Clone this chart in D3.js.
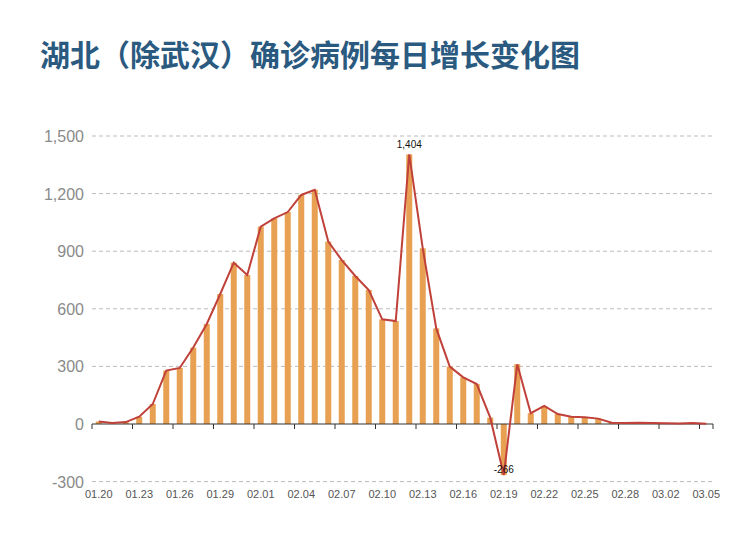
<!DOCTYPE html>
<html><head><meta charset="utf-8">
<script src="https://cdn.jsdelivr.net/npm/d3@7"></script>
<style>body{margin:0;background:#fff;font-family:"Liberation Sans",Arial,sans-serif}</style>
</head><body>
<svg id="c" width="750" height="542"></svg>
<script>
const dates = ['01.20','01.21','01.22','01.23','01.24','01.25','01.26','01.27','01.28','01.29','01.30','01.31',
 '02.01','02.02','02.03','02.04','02.05','02.06','02.07','02.08','02.09','02.10','02.11','02.12','02.13','02.14',
 '02.15','02.16','02.17','02.18','02.19','02.20','02.21','02.22','02.23','02.24','02.25','02.26','02.27','02.28','02.29',
 '03.01','03.02','03.03','03.04','03.05'];
const values = [13,5,10,38,104,278,292,398,521,677,840,776,
 1028,1071,1104,1193,1220,950,854,771,698,545,536,1404,915,498,
 299,243,208,33,-266,311,56,94,52,38,35,28,7,5,7,
 5,4,3,5,1];
const yTicks = [-300,0,300,600,900,1200,1500];
const labelled = ['02.12','02.19'];

var svg = d3.select('#c');
svg.append('text').attr('x',40).attr('y',66)
	.attr('fill','#2b5a80').attr('font-size',30).attr('font-weight','bold')
	.attr('font-family','"Noto Sans CJK SC",sans-serif')
	.text('湖北（除武汉）确诊病例每日增长变化图');

var x = d3.scaleBand().domain(dates).range([92,713]);
var y = d3.scaleLinear().domain([-300,1500]).range([481.6,136]);
var fmt = function(d){ return d3.format(',')(d).replace('\u2212','-'); };

// grid
svg.selectAll('.grid').data(yTicks.filter(function(d){return d!==0;})).enter()
	.append('line')
	.attr('x1',92).attr('x2',713)
	.attr('y1',function(d){return y(d);}).attr('y2',function(d){return y(d);})
	.attr('stroke','#bbb').attr('stroke-dasharray','4,3');
svg.selectAll('.ylab').data(yTicks).enter().append('text')
	.attr('x',84).attr('y',function(d){return y(d)+6;})
	.attr('text-anchor','end').attr('fill','#8a8a8a').attr('font-size',16)
	.text(fmt);

// bars
svg.selectAll('.bar').data(values).enter().append('rect')
	.attr('x',function(d,i){return x(dates[i])+x.bandwidth()/2-3;})
	.attr('width',6)
	.attr('y',function(d){return y(Math.max(0,d));})
	.attr('height',function(d){return Math.abs(y(d)-y(0));})
	.attr('fill','#e8a152');

// axis at zero
svg.append('line').attr('x1',92).attr('x2',713).attr('y1',y(0)).attr('y2',y(0))
	.attr('stroke','#333').attr('stroke-width',1);
var tickDates = dates.filter(function(d,i){return i%3===0;});
svg.selectAll('.tick').data(tickDates.concat(['end'])).enter().append('line')
	.attr('x1',function(d){return d==='end'?713:x(d);})
	.attr('x2',function(d){return d==='end'?713:x(d);})
	.attr('y1',y(0)).attr('y2',y(0)+5).attr('stroke','#333');
svg.selectAll('.xlab').data(tickDates).enter().append('text')
	.attr('x',function(d){return x(d)+x.bandwidth()/2;}).attr('y',498)
	.attr('text-anchor','middle').attr('fill','#555').attr('font-size',11)
	.text(function(d){return d;});

// line
var line = d3.line()
	.x(function(d,i){return x(dates[i])+x.bandwidth()/2;})
	.y(function(d){return y(d);});
svg.append('path').datum(values).attr('d',line)
	.attr('fill','none').attr('stroke','#c0413a').attr('stroke-width',2);

// labels
labelled.forEach(function(dt){
	var v = values[dates.indexOf(dt)];
	svg.append('text').attr('x',x(dt)+x.bandwidth()/2)
		.attr('y',v>0?y(v)-6:y(v)-2)
		.attr('text-anchor','middle').attr('font-size',10).attr('fill','#111')
		.text(fmt(v));
});
</script>
</body></html>
